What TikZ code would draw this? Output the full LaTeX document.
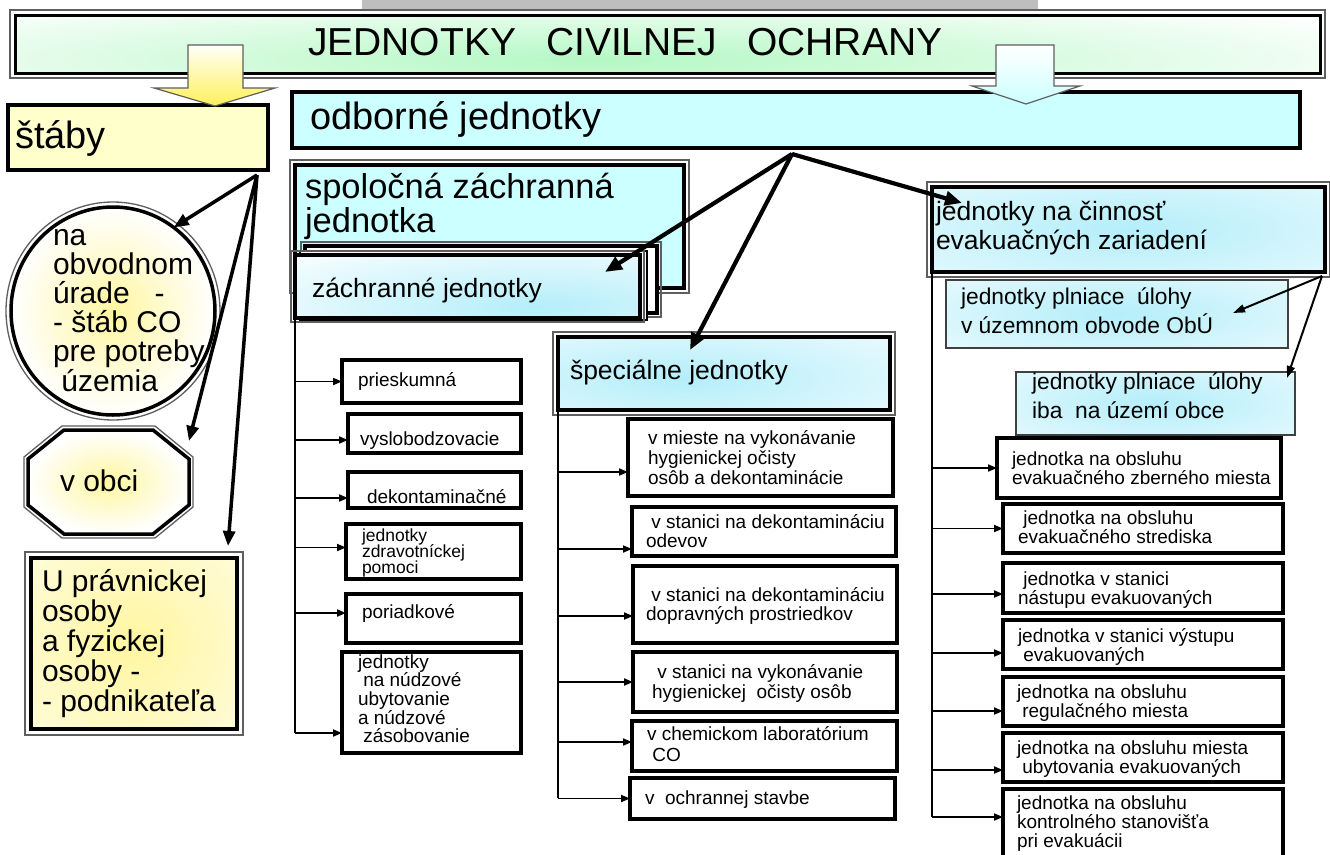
\documentclass[tikz,border=0pt]{standalone}
\usepackage{fontspec}
\setmainfont{Liberation Sans}
\usetikzlibrary{arrows.meta,calc,shapes.geometric}
\definecolor{cyanbox}{RGB}{204,255,255}
\definecolor{yelbox}{RGB}{255,255,204}
\definecolor{mint}{RGB}{180,248,196}
\definecolor{cyglow}{RGB}{180,238,250}
\definecolor{yeglow}{RGB}{255,246,160}
\definecolor{frm}{RGB}{95,95,95}
\definecolor{bandgray}{RGB}{190,190,190}
\definecolor{arrowyel}{RGB}{255,240,90}
\newcommand\mylines[2]{\vtop{\baselineskip=#1pt\lineskiplimit=-100pt\lineskip=0pt #2}}
\newcommand\myl[1]{\hbox{#1}}
\newcommand\mkbx[6]{\node[bx,minimum width={#4pt-#2pt},minimum height={#5pt-#3pt},#6] (#1) at (#2,#3) {};}
\newcommand\oframe[2]{\draw[frame] ($(#1.north west)+(-#2,-#2)$) rectangle ($(#1.south east)+(#2,#2)$);}
\newcommand\branch[3]{\path ([yshift=#3pt]#2.west) coordinate (b#2); \draw[brarr] (b#2 -| #1) -- (b#2);}
\begin{document}
\begin{tikzpicture}[x=1pt,y=-1pt,
 bx/.style={draw=black, line width=3.5pt, inner sep=0pt, outer sep=0pt, anchor=north west, fill=white, rectangle},
 frame/.style={draw=frm, line width=1.3pt},
 glow/.style n args={4}{path picture={\shade[inner color=#1, outer color=white] ($(path picture bounding box.center)+(#2)$) ellipse (#3 and #4);}},
 tx/.style={inner sep=0pt, outer sep=0pt, anchor=base west},
 fs/.style={tx, font=\fontsize{19}{19}\selectfont},
 fss/.style={tx, font=\fontsize{17.5}{17.5}\selectfont},
 fp/.style={tx, font=\fontsize{22.8}{22.8}\selectfont},
 fm/.style={tx, font=\fontsize{26.5}{26.5}\selectfont},
 fl/.style={tx, font=\fontsize{30}{30}\selectfont},
 fsp/.style={tx, font=\fontsize{34.5}{34.5}\selectfont},
 fh/.style={tx, font=\fontsize{38}{38}\selectfont},
 ft/.style={tx, font=\fontsize{39}{39}\selectfont},
 sarr/.style={line width=3.5pt, -{Triangle[length=15pt,width=12pt]}},
 barr/.style={line width=4.2pt, -{Triangle[length=17pt,width=14pt]}},
 tarr/.style={line width=2pt, -{Triangle[length=12pt,width=8pt]}},
 brarr/.style={line width=1.8pt, -{Triangle[length=9pt,width=7pt]}},
 trunk/.style={line width=1.8pt},
]
\useasboundingbox (0,0) rectangle (1330,854);
\clip (0,0) rectangle (1330,854);
\fill[white] (0,0) rectangle (1330,854);

% title
\mkbx{title}{15}{15}{1320}{73}{line width=3pt, glow={mint}{-70,16}{900}{70}}
\oframe{title}{5}
\fill[bandgray] (362,0) rectangle (1038,9);
\node[ft] (ttitle) at (308,55) {JEDNOTKY\hspace{0.77em}CIVILNEJ\hspace{0.77em}OCHRANY};

% main boxes
\mkbx{stab}{8}{105}{268}{170}{fill=yelbox}
\node[fh] (tstab) at (15,148) {štáby};
\mkbx{odb}{292}{92}{1300}{148}{fill=cyanbox}
\node[fh] (todb) at (310,129) {odborné jednotky};

% block arrows
\shadedraw[top color=yellow!3, bottom color=arrowyel, draw=frm, line width=1.2pt]
 (188,45) -- (243,45) -- (243,88) -- (275,88) -- (215,106) -- (154,88) -- (188,88) -- cycle;
\shadedraw[top color=white, bottom color=cyanbox, draw=frm, line width=1.2pt]
 (996,45) -- (1054,45) -- (1054,86) -- (1080,86) -- (1026,104) -- (972,86) -- (996,86) -- cycle;

% spolocna zachranna jednotka
\mkbx{spol}{295}{165}{684}{288}{fill=cyanbox}
\oframe{spol}{5}
\node[fsp] (tspol) at (305,198) {\mylines{34}{\myl{spoločná záchranná}\myl{jednotka}}};
\mkbx{zb}{305}{246}{657}{313}{}
\oframe{zb}{4}
\mkbx{zm}{300}{251}{647}{320}{line width=1.2pt}
\mkbx{zf}{295}{255}{640}{318}{glow={cyglow}{70,20}{380}{80}}
\oframe{zf}{4}
\node[fm] (tzf) at (312,297) {záchranné jednotky};

% left column
\node[ellipse, draw=frm, line width=1.3pt, minimum width=214pt, minimum height=218pt, inner sep=0pt] (ello) at (113,311) {};
\node[ellipse, draw=black, line width=3.5pt, minimum width=204pt, minimum height=208pt, inner sep=0pt, outer sep=0pt, inner color=yeglow, outer color=white] (ell) at (113,311) {};
\node[fl] (tell) at (53,245) {\mylines{29.2}{\myl{na}\myl{obvodnom}\myl{úrade\ \ \ -}\myl{- štáb CO}\myl{pre potreby}\myl{\ územia}}};

\draw[frame] (62,426) -- (155,426) -- (193,457) -- (193,507) -- (155,538) -- (62,538) -- (24,507) -- (24,457) -- cycle;
\shadedraw[inner color=yeglow, outer color=white, line width=3.5pt] (64,430) -- (153,430) -- (189,459) -- (189,505) -- (153,534) -- (64,534) -- (28,505) -- (28,459) -- cycle;
\node[minimum width=161pt, minimum height=104pt, inner sep=0pt, outer sep=0pt] (obci) at (108.5,482) {};
\node[fl] (tobci) at (60,491) {v obci};

\mkbx{upr}{31}{558}{237}{729}{glow={yeglow}{0,0}{240}{220}}
\oframe{upr}{6}
\node[fl] (tupr) at (42,591) {\mylines{30}{\myl{U právnickej}\myl{osoby}\myl{a fyzickej}\myl{osoby -}\myl{- podnikateľa}}};

% specialne jednotky
\mkbx{spec}{558}{337}{890}{410}{glow={cyglow}{-40,5}{400}{90}}
\oframe{spec}{5}
\node[fm] (tspec) at (570,379) {špeciálne jednotky};

% evakuacne
\mkbx{evac}{932}{187}{1325}{272}{glow={cyglow}{0,0}{460}{110}}
\oframe{evac}{5}
\node[fm] (tevac) at (936,220) {\mylines{29}{\myl{jednotky na činnosť}\myl{evakuačných zariadení}}};
\mkbx{pla}{946}{280}{1288}{348}{line width=1.5pt, draw=black!75, glow={cyglow}{0,0}{360}{80}}
\node[fp] (tpla) at (961,304) {\mylines{29}{\myl{jednotky plniace\ \ úlohy}\myl{v územnom obvode ObÚ}}};
\mkbx{plb}{1016}{372}{1295}{435}{line width=1.5pt, draw=black!75, glow={cyglow}{0,0}{300}{80}}
\node[fp] (tplb) at (1032,389) {\mylines{29}{\myl{jednotky plniace\ \ úlohy}\myl{iba\ \ na území obce}}};

% left items
\mkbx{la}{342}{360}{521}{403}{}
\node[fs] (tla) at (358,386) {prieskumná};
\mkbx{lb}{348}{414}{521}{453}{}
\node[fs] (tlb) at (360,445) {vyslobodzovacie};
\mkbx{lc}{348}{472}{521}{508}{}
\node[fs] (tlc) at (367,503) {dekontaminačné};
\mkbx{ld}{346}{524}{521}{579}{}
\node[fss] (tld) at (362,541) {\mylines{16}{\myl{jednotky}\myl{zdravotníckej}\myl{pomoci}}};
\mkbx{le}{346}{594}{521}{643}{}
\node[fs] (tle) at (362,618) {poriadkové};
\mkbx{lf}{342}{652}{521}{753}{}
\node[fs] (tlf) at (358,668) {\mylines{18.7}{\myl{jednotky}\myl{\ na núdzové}\myl{ubytovanie}\myl{a núdzové}\myl{\ zásobovanie}}};

% middle items
\mkbx{ma}{628}{419}{893}{496}{}
\node[fs] (tma) at (648,444) {\mylines{20}{\myl{v mieste na vykonávanie}\myl{hygienickej očisty}\myl{osôb a dekontaminácie}}};
\mkbx{mb}{632}{507}{896}{556}{}
\node[fs] (tmb) at (646,528) {\mylines{19}{\myl{\ v stanici na dekontamináciu}\myl{odevov}}};
\mkbx{mc}{633}{566}{897}{643}{}
\node[fs] (tmc) at (646,601) {\mylines{19}{\myl{\ v stanici na dekontamináciu}\myl{dopravných prostriedkov}}};
\mkbx{md}{633}{652}{897}{712}{}
\node[fs] (tmd) at (652,678) {\mylines{20}{\myl{\ v stanici na vykonávanie}\myl{hygienickej\ \ očisty osôb}}};
\mkbx{me}{632}{721}{897}{771}{}
\node[fs] (tme) at (647,740) {\mylines{21}{\myl{v chemickom laboratórium}\myl{\ CO}}};
\mkbx{mf}{630}{778}{895}{819}{}
\node[fs] (tmf) at (645,804) {v\ \ ochrannej stavbe};

% right items
\mkbx{ra}{997}{438}{1281}{498}{}
\node[fs] (tra) at (1012,465) {\mylines{19.3}{\myl{jednotka na obsluhu}\myl{evakuačného zberného miesta}}};
\mkbx{rb}{1003}{504}{1283}{553}{}
\node[fs] (trb) at (1018,524) {\mylines{19.3}{\myl{\ jednotka na obsluhu}\myl{evakuačného strediska}}};
\mkbx{rc}{1003}{563}{1283}{613}{}
\node[fs] (trc) at (1018,585) {\mylines{19.3}{\myl{\ jednotka v stanici}\myl{nástupu evakuovaných}}};
\mkbx{rd}{1003}{620}{1283}{669}{}
\node[fs] (trd) at (1018,642) {\mylines{19.3}{\myl{jednotka v stanici výstupu}\myl{\ evakuovaných}}};
\mkbx{re}{1003}{677}{1283}{726}{}
\node[fs] (tre) at (1017,698) {\mylines{19.3}{\myl{jednotka na obsluhu}\myl{\ regulačného miesta}}};
\mkbx{rf}{1003}{733}{1283}{782}{}
\node[fs] (trf) at (1017,754) {\mylines{19.3}{\myl{jednotka na obsluhu miesta}\myl{\ ubytovania evakuovaných}}};
\mkbx{rg}{1003}{789}{1283}{870}{}
\node[fs] (trg) at (1017,809) {\mylines{19.3}{\myl{jednotka na obsluhu}\myl{kontrolného stanovišťa}\myl{pri evakuácii}}};

% trunks and branches
\coordinate (lbot) at (297,733);
\coordinate (mbot) at (558,798);
\coordinate (rbot) at (932,817);
\draw[trunk] (zf.south west) -- (zf.south west |- lbot);
\draw[trunk] (spec.south west) -- (spec.south west |- mbot);
\draw[trunk] (evac.south west) -- (evac.south west |- rbot);
\branch{zf.south west}{la}{0}
\branch{zf.south west}{lb}{-6.5}
\branch{zf.south west}{lc}{-8}
\branch{zf.south west}{ld}{4}
\branch{zf.south west}{le}{5.5}
\branch{zf.south west}{lf}{-30.5}
\branch{spec.south west}{ma}{-14.5}
\branch{spec.south west}{mb}{-17.5}
\branch{spec.south west}{mc}{-11.5}
\branch{spec.south west}{md}{0}
\branch{spec.south west}{me}{4}
\branch{spec.south west}{mf}{0}
\branch{evac.south west}{ra}{0}
\branch{evac.south west}{rb}{0}
\branch{evac.south west}{rc}{-6}
\branch{evac.south west}{rd}{-8.5}
\branch{evac.south west}{re}{-9.5}
\branch{evac.south west}{rf}{-12.5}
\branch{evac.south west}{rg}{12.5}

% arrows from stab
\coordinate (so) at ($(stab.south east)+(-11,5)$);
\draw[sarr] (so) -- (ell.54);
\draw[sarr] (so) -- (obci.27);
\draw[sarr] (so) -- ($(upr.north east)+(-9,-12)$);

% arrows from odborne
\coordinate (hub) at ($(odb.south west)+(500,6)$);
\draw[barr] (hub) -- ($(zf.north east)+(-35,17)$);
\draw[barr] (hub) -- ($(spec.north west)+(132,13)$);
\draw[barr] (hub) -- ($(evac.north west)+(30,16)$);

% arrows from evac corner
\coordinate (ec) at ($(evac.south east)+(-3,4)$);
\draw[tarr] (ec) -- ($(pla.north east)+(-55,33)$);
\draw[tarr] (ec) -- ($(plb.north east)+(-8,6)$);
\end{tikzpicture}
\end{document}
